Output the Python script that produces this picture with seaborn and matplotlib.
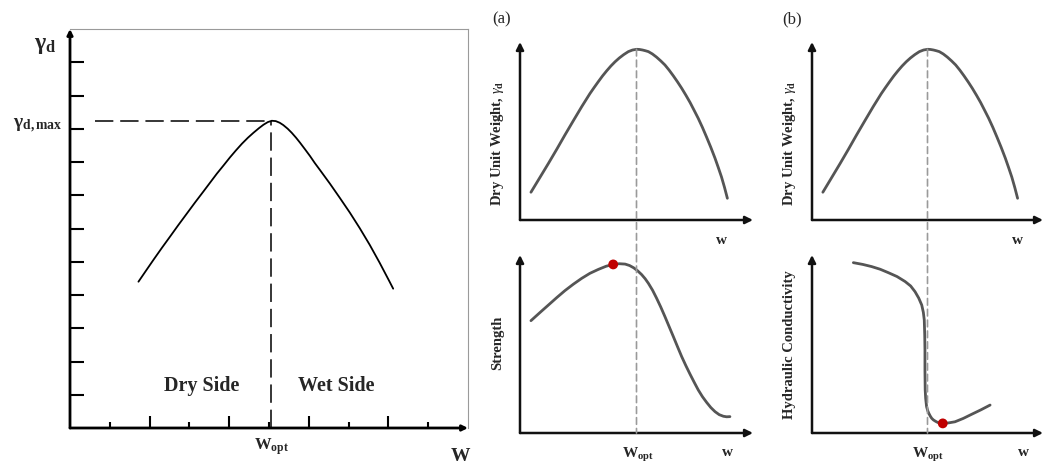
import matplotlib
matplotlib.use('Agg')
import matplotlib.pyplot as plt
import seaborn as sns
from matplotlib.patches import ConnectionPatch

sns.set_theme(style='white')
plt.rcParams['font.family'] = ['Liberation Serif', 'DejaVu Serif']
plt.rcParams['mathtext.fontset'] = 'custom'
plt.rcParams['mathtext.rm'] = 'Liberation Serif'
plt.rcParams['mathtext.it'] = 'Liberation Serif:italic'
plt.rcParams['mathtext.bf'] = 'Liberation Serif:bold'

# ---------------- data ----------------
# Left panel: compaction curve, dry unit weight vs water content
comp_w = [1.72, 1.92, 2.11, 2.31, 2.51, 2.72, 2.93, 3.14, 3.35, 3.52, 3.69, 3.86, 4.02,
          4.17, 4.32, 4.47, 4.61, 4.75, 4.86, 4.97, 5.07, 5.17, 5.27, 5.36, 5.47, 5.57,
          5.68, 5.78, 5.90, 6.03, 6.15, 6.28, 6.53, 6.78, 7.03, 7.28, 7.53, 7.78, 8.03,
          8.12]
comp_gd = [4.40, 4.75, 5.08, 5.42, 5.75, 6.10, 6.44, 6.78, 7.11, 7.38, 7.65, 7.90, 8.14,
           8.35, 8.55, 8.73, 8.88, 9.02, 9.12, 9.20, 9.24, 9.23, 9.18, 9.11, 9.00, 8.88,
           8.73, 8.58, 8.39, 8.18, 7.97, 7.76, 7.35, 6.92, 6.48, 6.01, 5.51, 4.97, 4.40,
           4.19]
comp_w_opt = 5.05
comp_gd_max = 9.24
comp_dash_start = 0.63
comp_xticks_major = [2, 4, 6, 8]
comp_xticks_minor = [1, 3, 5, 7, 9]
comp_yticks = [1, 2, 3, 4, 5, 6, 7, 8, 9, 10, 11]

# Right panels: dry unit weight curve (same in (a) and (b))
dw_w = [0.47, 0.85, 1.22, 1.58, 1.93, 2.29, 2.65, 3.00, 3.18, 3.36, 3.54, 3.72, 3.90,
        4.08, 4.26, 4.45, 4.65, 4.83, 5.01, 5.13, 5.26, 5.38, 5.51, 5.68, 5.86, 6.04,
        6.22, 6.40, 6.58, 6.76, 6.94, 7.12, 7.30, 7.47, 7.65, 7.83, 8.01, 8.19, 8.37,
        8.51, 8.65, 8.78, 8.90]
dw_g = [1.56, 2.38, 3.18, 3.98, 4.78, 5.58, 6.37, 7.10, 7.44, 7.77, 8.09, 8.38, 8.65,
        8.89, 9.10, 9.29, 9.46, 9.55, 9.59, 9.58, 9.55, 9.51, 9.46, 9.33, 9.15, 8.94,
        8.71, 8.42, 8.10, 7.76, 7.40, 7.01, 6.60, 6.17, 5.71, 5.20, 4.65, 4.08, 3.47,
        2.95, 2.41, 1.82, 1.22]
w_opt_r = 5.0
dw_peak = 9.59

# (a) lower: strength
st_w = [0.47, 0.85, 1.22, 1.58, 1.93, 2.29, 2.65, 3.00, 3.36, 3.70, 4.00, 4.26, 4.51,
        4.70, 4.88, 5.05, 5.22, 5.37, 5.51, 5.69, 5.86, 6.04, 6.22, 6.40, 6.58, 6.76,
        6.94, 7.12, 7.30, 7.48, 7.65, 7.83, 8.01, 8.19, 8.37, 8.55, 8.73, 8.87, 9.01]
st_v = [6.31, 6.76, 7.19, 7.61, 8.00, 8.36, 8.69, 8.97, 9.19, 9.37, 9.47, 9.51, 9.49,
        9.41, 9.28, 9.11, 8.90, 8.67, 8.41, 8.02, 7.58, 7.08, 6.54, 5.98, 5.42, 4.85,
        4.29, 3.78, 3.30, 2.84, 2.42, 2.04, 1.72, 1.43, 1.20, 1.03, 0.94, 0.91, 0.92]
st_peak_w = [4.00]
st_peak_v = [9.47]

# (b) lower: hydraulic conductivity
hc_w = [1.79, 2.20, 2.58, 2.95, 3.30, 3.68, 4.03, 4.27, 4.46, 4.62, 4.75, 4.82, 4.86,
        4.88, 4.89, 4.89, 4.90, 4.92, 4.96, 5.01, 5.06, 5.12, 5.18, 5.25, 5.32, 5.40,
        5.47, 5.56, 5.66, 5.92, 6.19, 6.55, 6.91, 7.31, 7.71]
hc_k = [9.57, 9.47, 9.35, 9.20, 9.01, 8.79, 8.51, 8.26, 7.94, 7.58, 7.19, 6.78, 6.35,
        5.50, 4.66, 3.50, 2.42, 1.95, 1.48, 1.25, 1.10, 0.95, 0.83, 0.74, 0.68, 0.62,
        0.58, 0.55, 0.54, 0.57, 0.63, 0.82, 1.05, 1.30, 1.57]
hc_min_w = [5.66]
hc_min_k = [0.54]

# ---------------- figure ----------------
W, H = 1044, 466
fig = plt.figure(figsize=(W / 100, H / 100), dpi=100)
fig.patch.set_facecolor('white')


def rect(l, t, r, b):
    return [l / W, 1 - b / H, (r - l) / W, (b - t) / H]


def ftext(x, y, s, **kw):
    fig.text(x / W, 1 - y / H, s, **kw)


def axis_arrows(ax, lw, color, ms):
    kw = dict(arrowstyle='-|>', color=color, lw=lw, shrinkA=0, shrinkB=0,
              mutation_scale=ms)
    ax.annotate('', xy=(1, 0), xytext=(0, 0), xycoords='axes fraction',
                arrowprops=kw, annotation_clip=False)
    ax.annotate('', xy=(0, 1), xytext=(0, 0), xycoords='axes fraction',
                arrowprops=kw, annotation_clip=False)


# ---- left panel ----
ax0 = fig.add_axes(rect(70, 29, 468, 428))
sns.lineplot(x=comp_w, y=comp_gd, ax=ax0, color='black', lw=1.3, sort=False,
             estimator=None)
ax0.plot([comp_dash_start, comp_w_opt], [comp_gd_max, comp_gd_max], color='black',
         lw=1.1, ls=(0, (12, 4.5)))
ax0.plot([comp_w_opt, comp_w_opt], [0, comp_gd_max], color='black', lw=1.1,
         ls=(0, (12, 4.5)))
ax0.set_xlim(0, 10)
ax0.set_ylim(0, 12)
ax0.set_xticks(comp_xticks_major)
ax0.set_xticks(comp_xticks_minor, minor=True)
ax0.set_yticks(comp_yticks)
ax0.set_xticklabels([])
ax0.set_yticklabels([])
ax0.tick_params(axis='x', which='major', direction='in', length=9, width=1.5,
                color='black', bottom=True)
ax0.tick_params(axis='x', which='minor', direction='in', length=4.5, width=1.5,
                color='black', bottom=True)
ax0.tick_params(axis='y', which='major', direction='in', length=10, width=1.5,
                color='black', left=True)
ax0.set_xlabel('')
ax0.set_ylabel('')
for s in ['left', 'bottom']:
    ax0.spines[s].set_visible(False)
for s in ['top', 'right']:
    ax0.spines[s].set_color('#9a9a9a')
    ax0.spines[s].set_linewidth(0.8)
axis_arrows(ax0, 2.0, 'black', 8)

ax0.text(-0.62, 11.5, r'$\mathbf{\gamma_d}$', fontsize=17, ha='center', va='center')
ax0.text(-0.2, 9.08, r'$\mathbf{\gamma_{d,max}}$', fontsize=14, ha='right', va='center')
ax0.text(3.32, 1.26, 'Dry Side', fontsize=14.5, fontweight='bold', ha='center',
         va='center')
ax0.text(6.68, 1.26, 'Wet Side', fontsize=14.5, fontweight='bold', ha='center',
         va='center')
ax0.text(comp_w_opt, -0.57, r'$\mathbf{W_{opt}}$', fontsize=12, ha='center',
         va='center')
ax0.text(9.8, -0.99, 'W', fontsize=14, fontweight='bold', ha='center', va='baseline')

# ---- right panels ----
curve_col = '#555555'
dash_col = '#9a9a9a'
panels = {
    'a_top': rect(520, 42, 753, 220),
    'a_bot': rect(520, 255, 753, 433),
    'b_top': rect(812, 42, 1043, 220),
    'b_bot': rect(812, 255, 1043, 433),
}
axs = {}
for k, r in panels.items():
    ax = fig.add_axes(r)
    ax.set_xlim(0, 10)
    ax.set_ylim(0, 10)
    ax.set_xticks([])
    ax.set_yticks([])
    for s in ax.spines.values():
        s.set_visible(False)
    ax.patch.set_alpha(0)
    axis_arrows(ax, 1.8, '#111111', 11)
    axs[k] = ax

for k in ['a_top', 'b_top']:
    sns.lineplot(x=dw_w, y=dw_g, ax=axs[k], color=curve_col, lw=2.0, sort=False,
                 estimator=None)
sns.lineplot(x=st_w, y=st_v, ax=axs['a_bot'], color=curve_col, lw=2.0, sort=False,
             estimator=None)
sns.scatterplot(x=st_peak_w, y=st_peak_v, ax=axs['a_bot'], color='#c00000', s=50,
                edgecolor='none', zorder=5)
sns.lineplot(x=hc_w, y=hc_k, ax=axs['b_bot'], color=curve_col, lw=2.0, sort=False,
             estimator=None)
sns.scatterplot(x=hc_min_w, y=hc_min_k, ax=axs['b_bot'], color='#c00000', s=50,
                edgecolor='none', zorder=5)
for ax in axs.values():
    ax.set_xlabel('')
    ax.set_ylabel('')

for top, bot in [('a_top', 'a_bot'), ('b_top', 'b_bot')]:
    cp = ConnectionPatch(xyA=(w_opt_r, dw_peak), coordsA=axs[top].transData,
                         xyB=(w_opt_r, 0), coordsB=axs[bot].transData,
                         color=dash_col, lw=1.2, linestyle=(0, (4, 2.5)), zorder=0.5)
    fig.add_artist(cp)

# texts
ftext(502, 19, '(a)', fontsize=12, ha='center', va='center')
ftext(792, 19, '(b)', fontsize=12, ha='center', va='center')
lab_kw = dict(fontsize=10.5, fontweight='bold', rotation=90, ha='center', va='center')
ftext(498, 143, r'Dry Unit Weight, $\gamma_\mathregular{d}$', **lab_kw)
ftext(789, 143, r'Dry Unit Weight, $\gamma_\mathregular{d}$', **lab_kw)
ftext(498, 343, 'Strength', **lab_kw)
ftext(789, 345, 'Hydraulic Conductivity', **lab_kw)
for x in [721, 1017]:
    ftext(x, 240, 'w', fontsize=11, fontweight='bold', ha='center', va='center')
    ftext(x + 6, 452, 'w', fontsize=11, fontweight='bold', ha='center', va='center')
for x in [638, 928]:
    ftext(x, 455, r'$\mathbf{W_{opt}}$', fontsize=11, ha='center', va='center')

fig.savefig('out.png', dpi=100, facecolor='white')
